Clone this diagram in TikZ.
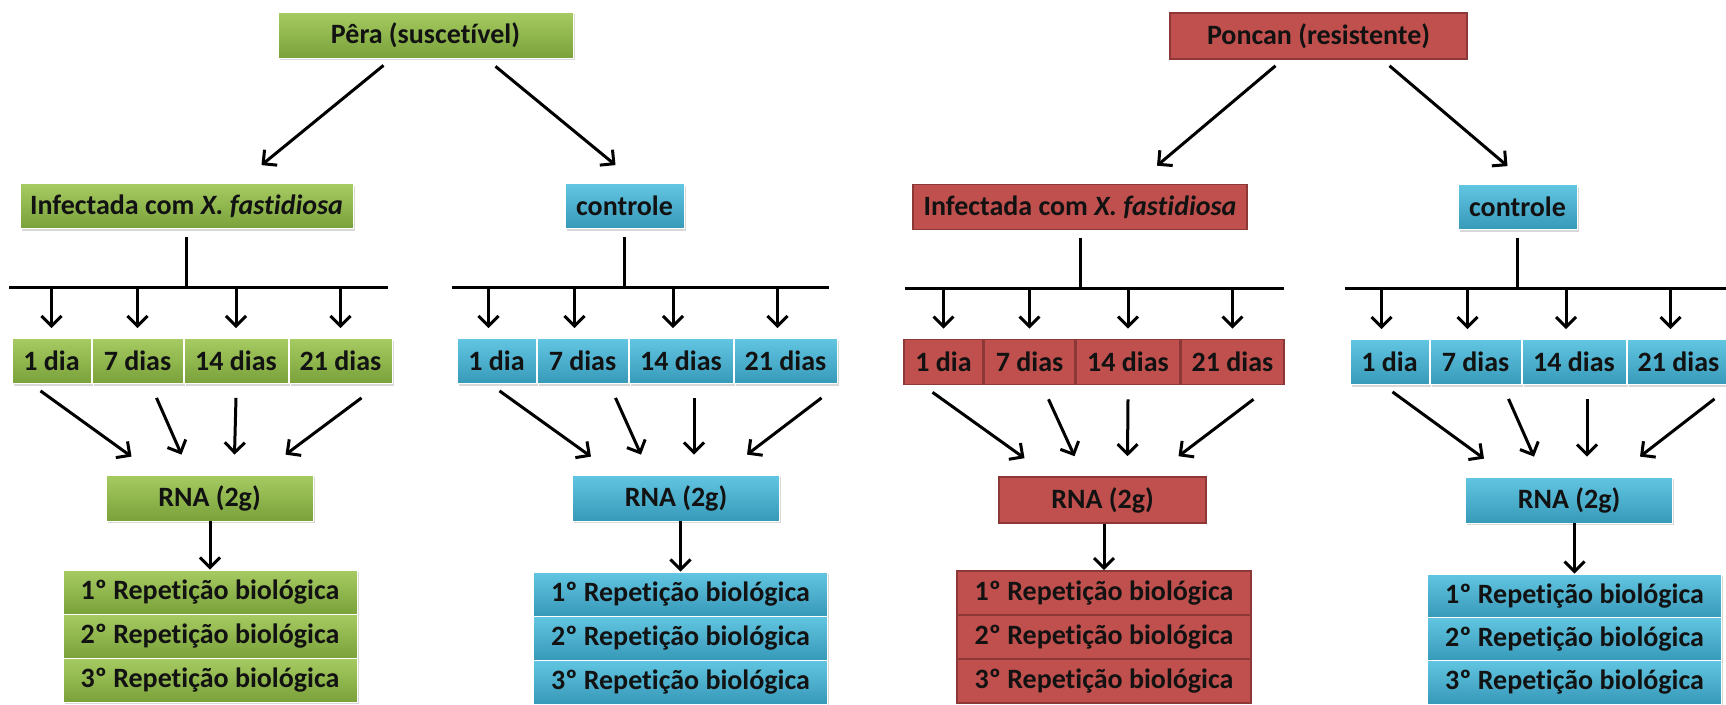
\documentclass[tikz,border=0pt]{standalone}
\usepackage{fontspec}
\setmainfont{Carlito}[Ligatures=NoCommon]
\usetikzlibrary{arrows.meta,calc,shadows}
\definecolor{grntop}{HTML}{A6CB62}
\definecolor{grnbot}{HTML}{7AA13A}
\definecolor{blutop}{HTML}{62C6E2}
\definecolor{blubot}{HTML}{3799B8}
\definecolor{redfill}{HTML}{C0504D}
\definecolor{redline}{HTML}{8C3836}
\definecolor{txtdark}{HTML}{121212}
\tikzset{
  box/.style={rectangle, inner sep=0pt, text=txtdark, font=\fontsize{28}{33}\selectfont\bfseries},
  grnbox/.style={box, top color=grntop, bottom color=grnbot, draw=white, line width=.8pt, drop shadow={shadow xshift=1.5pt, shadow yshift=-2pt, opacity=.3}},
  blubox/.style={box, top color=blutop, bottom color=blubot, draw=white, line width=.8pt, drop shadow={shadow xshift=1.5pt, shadow yshift=-2pt, opacity=.3}},
  redbox/.style={box, fill=redfill, draw=redline, line width=1.6pt},
  arr/.style={-{Straight Barb[length=10pt,width=20pt]}, line width=3pt},
  bar/.style={line width=3pt},
}
\begin{document}
\begin{tikzpicture}[x=1pt,y=-1pt]
\useasboundingbox[fill=white] (0,0) rectangle (1726,704);
\node[grnbox, minimum width=295pt, minimum height=46pt] (pera) at (425.5,35) {Pêra (suscetível)};
\node[grnbox, minimum width=333pt, minimum height=45pt] (pinf) at (186.5,206) {Infectada com \textit{X. fastidiosa}};
\node[blubox, minimum width=119pt, minimum height=45pt] (pctl) at (624.5,206) {controle};
\node[redbox, minimum width=297pt, minimum height=46pt] (ponc) at (1318.5,36) {Poncan (resistente)};
\node[redbox, minimum width=334pt, minimum height=45pt] (rinf) at (1080,207) {Infectada com \textit{X. fastidiosa}};
\node[blubox, minimum width=119pt, minimum height=45pt] (rctl) at (1517.5,207) {controle};
\draw[arr] ($(pera.south)+(-42,7)$) -- ($(pinf.north)+(75,-18)$);
\draw[arr] ($(pera.south)+(70,8)$) -- ($(pctl.north)+(-9,-18)$);
\draw[arr] ($(ponc.south)+(-43,6)$) -- ($(rinf.north)+(77,-18)$);
\draw[arr] ($(ponc.south)+(71,6)$) -- ($(rctl.north)+(-10,-18)$);
\node[grnbox, minimum width=79pt, minimum height=45pt] (pid1) at (51.5,361) {1 dia};
\node[grnbox, minimum width=91pt, minimum height=45pt] (pid7) at (137.5,361) {7 dias};
\node[grnbox, minimum width=104pt, minimum height=45pt] (pid14) at (236,361) {14 dias};
\node[grnbox, minimum width=103pt, minimum height=45pt] (pid21) at (340.5,361) {21 dias};
\node[blubox, minimum width=79pt, minimum height=45pt] (pcd1) at (496.5,361) {1 dia};
\node[blubox, minimum width=91pt, minimum height=45pt] (pcd7) at (582.5,361) {7 dias};
\node[blubox, minimum width=104pt, minimum height=45pt] (pcd14) at (681,361) {14 dias};
\node[blubox, minimum width=103pt, minimum height=45pt] (pcd21) at (785.5,361) {21 dias};
\node[redbox, minimum width=79pt, minimum height=45pt] (rid1) at (943.5,362) {1 dia};
\node[redbox, minimum width=91pt, minimum height=45pt] (rid7) at (1029.5,362) {7 dias};
\node[redbox, minimum width=104pt, minimum height=45pt] (rid14) at (1128,362) {14 dias};
\node[redbox, minimum width=103pt, minimum height=45pt] (rid21) at (1232.5,362) {21 dias};
\node[blubox, minimum width=79pt, minimum height=45pt] (rcd1) at (1389.5,362) {1 dia};
\node[blubox, minimum width=91pt, minimum height=45pt] (rcd7) at (1475.5,362) {7 dias};
\node[blubox, minimum width=104pt, minimum height=45pt] (rcd14) at (1574,362) {14 dias};
\node[blubox, minimum width=103pt, minimum height=45pt] (rcd21) at (1678.5,362) {21 dias};
\coordinate (pibarL) at (9,287);
\coordinate (pibarR) at (388,287);
\coordinate (pcbarL) at (452,287);
\coordinate (pcbarR) at (829,287);
\coordinate (ribarL) at (905,288);
\coordinate (ribarR) at (1284,288);
\coordinate (rcbarL) at (1345,288);
\coordinate (rcbarR) at (1726,288);
\draw[bar] (pibarL) -- (pibarR);
\draw[bar] (pcbarL) -- (pcbarR);
\draw[bar] (ribarL) -- (ribarR);
\draw[bar] (rcbarL) -- (rcbarR);
\draw[bar] ([yshift=-8pt]pinf.south) -- (pinf.south |- pibarL);
\draw[bar] ([yshift=-8pt]pctl.south) -- (pctl.south |- pcbarL);
\draw[bar] ([yshift=-8pt]rinf.south) -- (rinf.south |- ribarL);
\draw[bar] ([yshift=-8pt]rctl.south) -- (rctl.south |- rcbarL);
\draw[arr] (pid1.north |- pibarL) -- ([yshift=10pt]pid1.north);
\draw[arr] (pid7.north |- pibarL) -- ([yshift=10pt]pid7.north);
\draw[arr] (pid14.north |- pibarL) -- ([yshift=10pt]pid14.north);
\draw[arr] (pid21.north |- pibarL) -- ([yshift=10pt]pid21.north);
\draw[arr] ([xshift=-8pt]pcd1.north |- pcbarL) -- ([xshift=-8pt,yshift=10pt]pcd1.north);
\draw[arr] ([xshift=-8pt]pcd7.north |- pcbarL) -- ([xshift=-8pt,yshift=10pt]pcd7.north);
\draw[arr] ([xshift=-8pt]pcd14.north |- pcbarL) -- ([xshift=-8pt,yshift=10pt]pcd14.north);
\draw[arr] ([xshift=-8pt]pcd21.north |- pcbarL) -- ([xshift=-8pt,yshift=10pt]pcd21.north);
\draw[arr] (rid1.north |- ribarL) -- ([yshift=10pt]rid1.north);
\draw[arr] (rid7.north |- ribarL) -- ([yshift=10pt]rid7.north);
\draw[arr] (rid14.north |- ribarL) -- ([yshift=10pt]rid14.north);
\draw[arr] (rid21.north |- ribarL) -- ([yshift=10pt]rid21.north);
\draw[arr] ([xshift=-8pt]rcd1.north |- rcbarL) -- ([xshift=-8pt,yshift=10pt]rcd1.north);
\draw[arr] ([xshift=-8pt]rcd7.north |- rcbarL) -- ([xshift=-8pt,yshift=10pt]rcd7.north);
\draw[arr] ([xshift=-8pt]rcd14.north |- rcbarL) -- ([xshift=-8pt,yshift=10pt]rcd14.north);
\draw[arr] ([xshift=-8pt]rcd21.north |- rcbarL) -- ([xshift=-8pt,yshift=10pt]rcd21.north);
\node[grnbox, minimum width=207pt, minimum height=46pt] (pirna) at (209.5,498) {RNA (2g)};
\node[blubox, minimum width=207pt, minimum height=46pt] (pcrna) at (676,498) {RNA (2g)};
\node[redbox, minimum width=207pt, minimum height=46pt] (rirna) at (1102.5,500) {RNA (2g)};
\node[blubox, minimum width=207pt, minimum height=46pt] (rcrna) at (1569,500) {RNA (2g)};
\draw[arr] ($(pid1.south)+(-11,7)$) -- ($(pirna.north)+(-78,-18)$);
\draw[arr] ($(pid7.south)+(19,14)$) -- ($(pirna.north)+(-28,-20)$);
\draw[arr] ($(pid14.south)+(0,14)$) -- ($(pirna.north)+(25,-20)$);
\draw[arr] ($(pid21.south)+(21,14)$) -- ($(pirna.north)+(76,-20)$);
\draw[arr] ($(pcd1.south)+(3,7)$) -- ($(pcrna.north)+(-85,-18)$);
\draw[arr] ($(pcd7.south)+(33,14)$) -- ($(pcrna.north)+(-35,-20)$);
\draw[arr] ($(pcd14.south)+(13,14)$) -- ($(pcrna.north)+(18,-20)$);
\draw[arr] ($(pcd21.south)+(36,14)$) -- ($(pcrna.north)+(71,-20)$);
\draw[arr] ($(rid1.south)+(-11,7)$) -- ($(rirna.north)+(-78,-18)$);
\draw[arr] ($(rid7.south)+(19,14)$) -- ($(rirna.north)+(-28,-20)$);
\draw[arr] ($(rid14.south)+(0,14)$) -- ($(rirna.north)+(25,-20)$);
\draw[arr] ($(rid21.south)+(21,14)$) -- ($(rirna.north)+(76,-20)$);
\draw[arr] ($(rcd1.south)+(3,7)$) -- ($(rcrna.north)+(-85,-18)$);
\draw[arr] ($(rcd7.south)+(33,14)$) -- ($(rcrna.north)+(-35,-20)$);
\draw[arr] ($(rcd14.south)+(13,14)$) -- ($(rcrna.north)+(18,-20)$);
\draw[arr] ($(rcd21.south)+(36,14)$) -- ($(rcrna.north)+(71,-20)$);
\node[grnbox, minimum width=294pt, minimum height=44pt] (pirep1) at (210,592) {1º Repetição biológica};
\node[grnbox, minimum width=294pt, minimum height=44pt] (pirep2) at (210,636) {2º Repetição biológica};
\node[grnbox, minimum width=294pt, minimum height=44pt] (pirep3) at (210,680) {3º Repetição biológica};
\node[blubox, minimum width=294pt, minimum height=44pt] (pcrep1) at (680.5,594) {1º Repetição biológica};
\node[blubox, minimum width=294pt, minimum height=44pt] (pcrep2) at (680.5,638) {2º Repetição biológica};
\node[blubox, minimum width=294pt, minimum height=44pt] (pcrep3) at (680.5,682) {3º Repetição biológica};
\node[redbox, minimum width=294pt, minimum height=44pt] (rirep1) at (1104,593) {1º Repetição biológica};
\node[redbox, minimum width=294pt, minimum height=44pt] (rirep2) at (1104,637) {2º Repetição biológica};
\node[redbox, minimum width=294pt, minimum height=44pt] (rirep3) at (1104,681) {3º Repetição biológica};
\node[blubox, minimum width=294pt, minimum height=44pt] (rcrep1) at (1574.5,596) {1º Repetição biológica};
\node[blubox, minimum width=294pt, minimum height=44pt] (rcrep2) at (1574.5,639) {2º Repetição biológica};
\node[blubox, minimum width=294pt, minimum height=44pt] (rcrep3) at (1574.5,682) {3º Repetição biológica};
\draw[arr] (pirep1.north |- pirna.south) -- (pirep1.north);
\draw[arr] (pcrep1.north |- pcrna.south) -- (pcrep1.north);
\draw[arr] (rirep1.north |- rirna.south) -- (rirep1.north);
\draw[arr] (rcrep1.north |- rcrna.south) -- (rcrep1.north);
\end{tikzpicture}
\end{document}
